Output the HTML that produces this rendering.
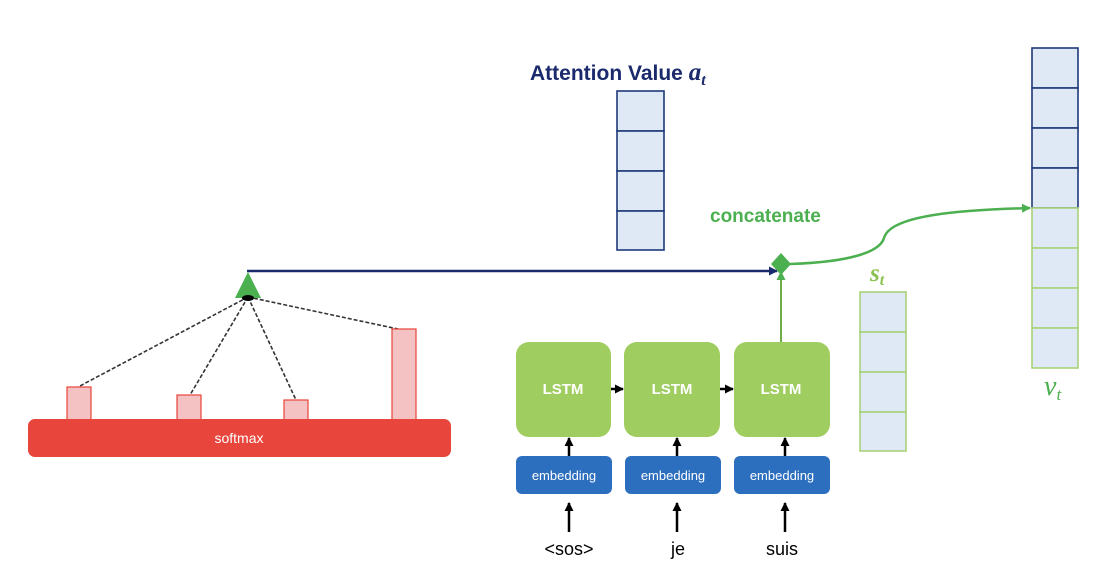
<!DOCTYPE html>
<html><head><meta charset="utf-8"><style>
html,body{margin:0;padding:0;background:#fff;}
svg{display:block}
</style></head><body>
<svg width="1120" height="578" viewBox="0 0 1120 578" xmlns="http://www.w3.org/2000/svg" font-family="Liberation Sans, sans-serif">
<defs>
<marker id="an" markerWidth="9" markerHeight="9" refX="8" refY="4.5" orient="auto" markerUnits="userSpaceOnUse"><path d="M0,0 L9,4.5 L0,9 z" fill="#1a2a6c"/></marker>
<marker id="ag" markerWidth="9" markerHeight="9" refX="8" refY="4.5" orient="auto" markerUnits="userSpaceOnUse"><path d="M0,0 L9,4.5 L0,9 z" fill="#4caf50"/></marker>
<marker id="ab" markerWidth="9" markerHeight="9" refX="8" refY="4.5" orient="auto" markerUnits="userSpaceOnUse"><path d="M0,0 L9,4.5 L0,9 z" fill="#000"/></marker>
</defs>
<text x="530" y="80" font-size="21" font-weight="bold" fill="#1a2a6c">Attention Value <tspan font-family="Liberation Serif, serif" font-style="italic" font-size="25">a</tspan><tspan font-family="Liberation Serif, serif" font-style="italic" font-size="16" dy="5">t</tspan></text>
<g fill="#dfe9f5" stroke="#1f3a7a" stroke-width="1.6">
<rect x="617" y="91" width="47" height="40"/><rect x="617" y="131" width="47" height="40"/><rect x="617" y="171" width="47" height="40"/><rect x="617" y="211" width="47" height="39"/>
</g>
<text x="710" y="222" font-size="19" font-weight="bold" fill="#4caf50">concatenate</text>
<line x1="247" y1="271" x2="777" y2="271" stroke="#1a2a6c" stroke-width="2.5" marker-end="url(#an)"/>
<line x1="781" y1="342" x2="781" y2="272" stroke="#70ad47" stroke-width="2" marker-end="url(#ag)"/>
<path d="M790,264 C850,262 880,252 884,238 C890,215 960,210 1030,208" fill="none" stroke="#4caf50" stroke-width="2.5" marker-end="url(#ag)"/>
<polygon points="781,253 791,264 781,275 771,264" fill="#4caf50"/>
<text x="870" y="281" font-family="Liberation Serif, serif" font-style="italic" font-weight="bold" font-size="25" fill="#8cc152">s<tspan font-size="16" dy="4">t</tspan></text>
<g fill="#dfe9f5" stroke="#a9d27a" stroke-width="1.6">
<rect x="860" y="292" width="46" height="40"/><rect x="860" y="332" width="46" height="40"/><rect x="860" y="372" width="46" height="40"/><rect x="860" y="412" width="46" height="39"/>
</g>
<g fill="#dfe9f5" stroke="#1f3a7a" stroke-width="1.6">
<rect x="1032" y="48" width="46" height="40"/><rect x="1032" y="88" width="46" height="40"/><rect x="1032" y="128" width="46" height="40"/><rect x="1032" y="168" width="46" height="40"/>
</g>
<g fill="#dfe9f5" stroke="#a9d27a" stroke-width="1.6">
<rect x="1032" y="208" width="46" height="40"/><rect x="1032" y="248" width="46" height="40"/><rect x="1032" y="288" width="46" height="40"/><rect x="1032" y="328" width="46" height="40"/>
</g>
<text x="1044" y="395" font-family="Liberation Serif, serif" font-style="italic" font-size="28" fill="#4caf50">v<tspan font-size="17" dy="5">t</tspan></text>
<g stroke="#333" stroke-width="1.6" stroke-dasharray="4,2" fill="none">
<line x1="248" y1="297" x2="78" y2="387"/><line x1="248" y1="297" x2="190" y2="395"/><line x1="248" y1="297" x2="296" y2="400"/><line x1="248" y1="297" x2="398" y2="329"/>
</g>
<polygon points="248,272 261,298 235,298" fill="#4caf50"/>
<ellipse cx="248" cy="298" rx="6" ry="3" fill="#000"/>
<g fill="#f4c2c2" stroke="#e8433a" stroke-width="1.2">
<rect x="67" y="387" width="24" height="33"/><rect x="177" y="395" width="24" height="25"/><rect x="284" y="400" width="24" height="20"/><rect x="392" y="329" width="24" height="91"/>
</g>
<rect x="28" y="419" width="423" height="38" rx="7" fill="#e8453c"/>
<text x="239" y="443" font-size="14" fill="#fff" text-anchor="middle">softmax</text>
<g fill="#9fcd60">
<rect x="516" y="342" width="95" height="95" rx="13"/><rect x="624" y="342" width="96" height="95" rx="13"/><rect x="734" y="342" width="96" height="95" rx="13"/>
</g>
<g font-size="15" font-weight="bold" fill="#fff" text-anchor="middle">
<text x="563" y="394">LSTM</text><text x="672" y="394">LSTM</text><text x="781" y="394">LSTM</text>
</g>
<g stroke="#000" stroke-width="2.5" fill="none">
<line x1="611" y1="389" x2="623" y2="389" marker-end="url(#ab)"/>
<line x1="720" y1="389" x2="733" y2="389" marker-end="url(#ab)"/>
<line x1="569" y1="456" x2="569" y2="438" marker-end="url(#ab)"/>
<line x1="677" y1="456" x2="677" y2="438" marker-end="url(#ab)"/>
<line x1="785" y1="456" x2="785" y2="438" marker-end="url(#ab)"/>
<line x1="569" y1="532" x2="569" y2="503" marker-end="url(#ab)"/>
<line x1="677" y1="532" x2="677" y2="503" marker-end="url(#ab)"/>
<line x1="785" y1="532" x2="785" y2="503" marker-end="url(#ab)"/>
</g>
<g fill="#2d6fbf">
<rect x="516" y="456" width="96" height="38" rx="6"/><rect x="625" y="456" width="96" height="38" rx="6"/><rect x="734" y="456" width="96" height="38" rx="6"/>
</g>
<g font-size="13" fill="#fff" text-anchor="middle">
<text x="564" y="480">embedding</text><text x="673" y="480">embedding</text><text x="782" y="480">embedding</text>
</g>
<g font-size="18" fill="#000" text-anchor="middle">
<text x="569" y="555">&lt;sos&gt;</text><text x="678" y="555">je</text><text x="782" y="555">suis</text>
</g>
</svg>
</body></html>
